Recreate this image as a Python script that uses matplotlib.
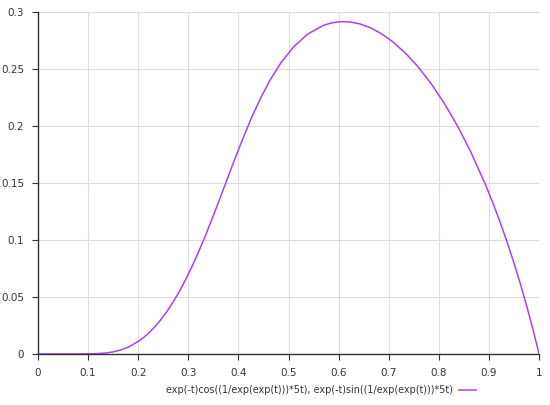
import matplotlib.pyplot as plt

# parametric curve samples (x, y)
curve_x = [1.0, 0.98732, 0.97433, 0.96107, 0.94761, 0.93396, 0.92020, 0.90635,
           0.89246, 0.86469, 0.83712, 0.80997, 0.78341, 0.75759, 0.73260,
           0.70856, 0.68549, 0.66346, 0.64247, 0.62253, 0.60361, 0.58571,
           0.56882, 0.53778, 0.51016, 0.48551, 0.46339, 0.44337, 0.42503,
           0.40806, 0.39207, 0.37687, 0.36224, 0.34804, 0.33417, 0.32057,
           0.30723, 0.29414, 0.28132, 0.26880, 0.25661, 0.24478, 0.23335,
           0.22233, 0.21173, 0.20158, 0.18257, 0.16526, 0.14956, 0.13531,
           0.11080, 0.08208, 0.04979, 0.0]
curve_y = [0.0, 0.02242, 0.04371, 0.06390, 0.08301, 0.10106, 0.11808, 0.13409,
           0.14914, 0.17642, 0.20014, 0.22056, 0.23788, 0.25238, 0.26423,
           0.27368, 0.28092, 0.28614, 0.28955, 0.29127, 0.29151, 0.29045,
           0.28813, 0.28049, 0.26946, 0.25589, 0.24044, 0.22367, 0.20606,
           0.18811, 0.17019, 0.15253, 0.13548, 0.11919, 0.10387, 0.08967,
           0.07661, 0.06482, 0.05427, 0.04497, 0.03684, 0.02986, 0.02390,
           0.01891, 0.01478, 0.01139, 0.00652, 0.00351, 0.00177, 0.00084,
           0.00015, 0.0, 0.0, 0.0]

x_ticks = [0, 0.1, 0.2, 0.3, 0.4, 0.5, 0.6, 0.7, 0.8, 0.9, 1]
x_labels = ["0", "0.1", "0.2", "0.3", "0.4", "0.5", "0.6", "0.7", "0.8", "0.9", "1"]
y_ticks = [0, 0.05, 0.1, 0.15, 0.2, 0.25, 0.3]
y_labels = ["0", "0.05", "0.1", "0.15", "0.2", "0.25", "0.3"]
label = "exp(-t)cos((1/exp(exp(t)))*5t), exp(-t)sin((1/exp(exp(t)))*5t)"

plt.rcParams['font.family'] = ['DejaVu Sans']
fig = plt.figure(figsize=(5.5, 4.05), dpi=100)
ax = fig.add_axes([0.0691, 0.126, 0.911, 0.8444])

ax.plot(curve_x, curve_y, color='#a642f4', lw=1.1, label=label)

ax.set_xlim(0, 1)
ax.set_ylim(0, 0.3)
ax.set_xticks(x_ticks, x_labels)
ax.set_yticks(y_ticks, y_labels)
ax.tick_params(labelsize=7.5, labelcolor='#333333', color='#333333',
               length=4, width=0.8, pad=6)
ax.grid(True, color='#dddddd', lw=0.8)
ax.set_axisbelow(True)
for s in ['top', 'right']:
    ax.spines[s].set_visible(False)
for s in ['left', 'bottom']:
    ax.spines[s].set_color('#333333')
    ax.spines[s].set_linewidth(1.0)

ax.legend(loc='center right', bbox_to_anchor=(0.884, -0.106), frameon=False,
          markerfirst=False, fontsize=6.9, handlelength=1.8, borderpad=0,
          handletextpad=0.6, labelcolor='#333333')

fig.savefig('out.png', dpi=100)
